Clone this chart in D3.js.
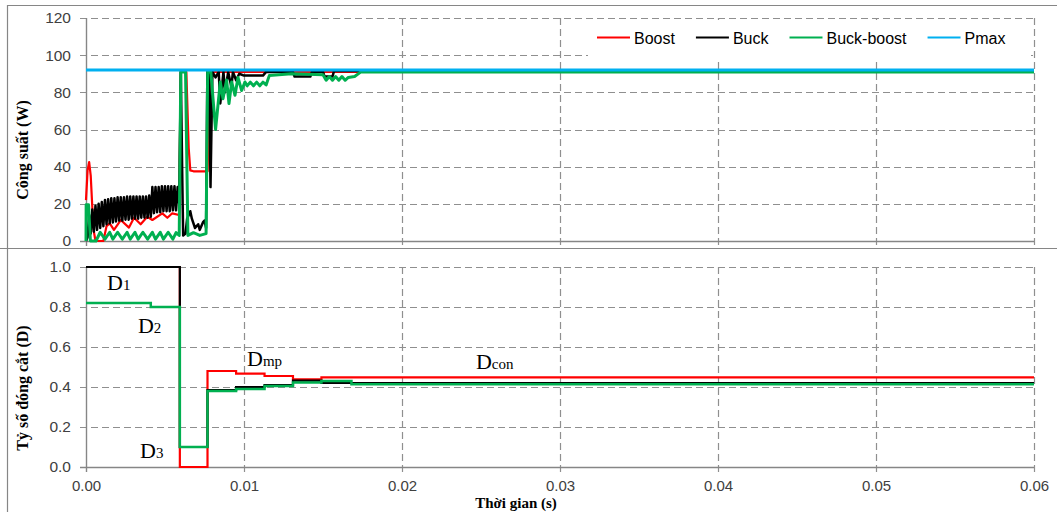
<!DOCTYPE html>
<html>
<head>
<meta charset="utf-8">
<script src="https://cdn.jsdelivr.net/npm/d3@7.9.0/dist/d3.min.js"></script>
<style>
  html, body { margin: 0; padding: 0; background: #fff; }
  svg { display: block; }
  .tick-label { font-family: 'Liberation Sans', Arial, sans-serif; font-size: 15.5px; fill: #404040; }
  .axis-title { font-family: 'Liberation Serif', 'Times New Roman', serif; font-size: 16px; font-weight: bold; fill: #000; }
  .legend-text { font-family: 'Liberation Sans', Arial, sans-serif; font-size: 16px; fill: #000; }
  .note { font-family: 'Liberation Serif', 'Times New Roman', serif; font-size: 22px; fill: #000; }
</style>
</head>
<body>
<svg id="chart" width="1057" height="512"></svg>
<script>
// ---- data ----
const timeTicks = [0, 0.01, 0.02, 0.03, 0.04, 0.05, 0.06];
const powerTicks = [0, 20, 40, 60, 80, 100, 120];
const dutyTicks = [0, 0.2, 0.4, 0.6, 0.8, 1.0];
const seriesNames = ['Boost', 'Buck', 'Buck-boost', 'Pmax'];
const seriesColors = ['#ff0000', '#000000', '#00b050', '#00b0f0'];

const pmax = 92;

// [time (s), power (W)]
const boostPower = [
  [0, 22], [0.0001, 38], [0.0002, 42.5], [0.0003, 35], [0.0004, 18], [0.0005, 5], [0.0006, 0],
  [0.0011, 0], [0.0013, 8], [0.0015, 9.5], [0.00177, 6], [0.0022, 11.3], [0.00272, 7.2],
  [0.00304, 12.5], [0.00346, 9], [0.00388, 13], [0.0042, 11.3], [0.00483, 14.9], [0.00515, 12.5],
  [0.00546, 14.9], [0.00589, 14], [0.006, 91], [0.00635, 91], [0.0065, 50], [0.0066, 38],
  [0.0068, 37.5], [0.0077, 37.5], [0.0078, 80], [0.0079, 91], [0.06, 91]
];

const buckPower = [
  [0, 0], [0.0001, 2], [0.0002, 14], [0.0003, 4], [0.0004, 17], [0.0005, 5], [0.0006, 19],
  [0.0007, 6], [0.0008, 20], [0.0009, 7], [0.0010, 21], [0.0011, 8], [0.0012, 22], [0.0013, 9],
  [0.0014, 22.5], [0.0015, 9.5], [0.0016, 23], [0.0017, 10], [0.0018, 23], [0.0019, 10.5],
  [0.0020, 23.5], [0.0021, 11], [0.0022, 23.5], [0.0023, 11], [0.0024, 23.5], [0.0025, 11.5],
  [0.0026, 24], [0.0027, 11.5], [0.0028, 24], [0.0029, 12], [0.0030, 24], [0.0031, 12],
  [0.0032, 24], [0.0033, 12], [0.0034, 24], [0.0035, 12.5], [0.0036, 24], [0.0037, 12.5],
  [0.0038, 24], [0.0039, 12.5], [0.0040, 24.5], [0.0041, 13], [0.0042, 29], [0.0043, 15],
  [0.0044, 29], [0.0045, 15.5], [0.0046, 29], [0.0047, 15.5], [0.0048, 29.5], [0.0049, 16],
  [0.0050, 29.5], [0.0051, 16], [0.0052, 29.5], [0.0053, 16], [0.0054, 29.5], [0.0055, 16.5],
  [0.0056, 29.5], [0.0057, 16.5], [0.0058, 29], [0.0059, 20], [0.0060, 91], [0.0061, 30],
  [0.00615, 3], [0.0063, 4], [0.0064, 12], [0.0066, 16], [0.0067, 12], [0.0069, 7], [0.0071, 9],
  [0.0072, 6], [0.0074, 10], [0.0075, 11], [0.0076, 7], [0.00768, 91], [0.0078, 91],
  [0.00788, 29], [0.0080, 91], [0.0082, 88], [0.0084, 91], [0.0085, 74], [0.0087, 91],
  [0.0088, 80], [0.0090, 91], [0.0092, 83], [0.0093, 91], [0.0095, 86.5], [0.0097, 90],
  [0.0100, 89], [0.0112, 89], [0.0114, 91], [0.0131, 91], [0.0132, 88.5], [0.0142, 88.5],
  [0.0143, 91], [0.0150, 91], [0.0151, 88.5], [0.0156, 88.5], [0.0157, 91.5], [0.06, 91.5]
];

const buckBoostPower = [
  [0, 0], [0.00001, 19.5], [0.00016, 19.5], [0.00028, 0], [0.00063, 0], [0.0009, 4.7],
  [0.0012, 1], [0.0015, 4.7], [0.0017, 1], [0.0020, 4.7], [0.0023, 1], [0.0026, 4.7],
  [0.0028, 1], [0.0031, 4.7], [0.0033, 1], [0.0036, 4.7], [0.0039, 1], [0.0042, 4.7],
  [0.0044, 1], [0.0047, 4.7], [0.0049, 1], [0.0052, 4.7], [0.0055, 1], [0.0057, 4.5],
  [0.0059, 3], [0.0060, 91], [0.0063, 91], [0.00645, 3], [0.0068, 4.5], [0.0072, 3],
  [0.0076, 4], [0.0077, 91], [0.0079, 91], [0.0082, 60], [0.0085, 85.6], [0.00867, 76.6],
  [0.0089, 86.6], [0.00905, 74], [0.00922, 85.6], [0.00943, 78.4], [0.00962, 88], [0.00985, 81],
  [0.01006, 85.6], [0.0102, 83.5], [0.0104, 85.5], [0.0106, 83.5], [0.0108, 85.5], [0.0110, 83.5],
  [0.0112, 85.5], [0.0114, 84], [0.0116, 89], [0.0130, 90], [0.0150, 89.5], [0.0152, 86.5],
  [0.0154, 88.5], [0.0156, 86.5], [0.0158, 88.5], [0.0160, 86.5], [0.0162, 88.5], [0.0164, 86.5],
  [0.0166, 88], [0.0170, 88.5], [0.0174, 91], [0.06, 91]
];

const pmaxPower = [[0, pmax], [0.06, pmax]];

// [time (s), duty ratio] – held until the next point
const boostDuty = [
  [0, 1.0], [0.00594, 0], [0.00769, 0.48], [0.0095, 0.467], [0.0113, 0.455],
  [0.0131, 0.438], [0.0149, 0.448], [0.06, 0.448]
];
const buckDuty = [
  [0, 1.0], [0.00594, 0.1], [0.00769, 0.385], [0.0095, 0.40], [0.0113, 0.41],
  [0.0131, 0.432], [0.0149, 0.42], [0.06, 0.42]
];
const buckBoostDuty = [
  [0, 0.82], [0.0041, 0.80], [0.00594, 0.10], [0.00769, 0.38], [0.0095, 0.39],
  [0.0113, 0.405], [0.0131, 0.422], [0.0149, 0.43], [0.0168, 0.414], [0.06, 0.414]
];

// annotation labels: [main, subscript, time, duty]
const dutyNotes = [
  ['D', '1', 0.00133, 0.885],
  ['D', '2', 0.00329, 0.67],
  ['D', '3', 0.00342, 0.045],
  ['D', 'mp', 0.01019, 0.505],
  ['D', 'con', 0.02468, 0.49]
];

// ---- layout ----
const svg = d3.select('#chart');
const gridColor = '#8f8f8f';
const axisColor = '#868686';

const x = d3.scaleLinear().domain([0, 0.06]).range([86, 1034]);
const yP = d3.scaleLinear().domain([0, 120]).range([241, 18]);
const yD = d3.scaleLinear().domain([0, 1]).range([467, 267]);

// outer frame and divider
svg.append('line').attr('x1', 7.5).attr('x2', 7.5).attr('y1', 5).attr('y2', 512)
  .attr('stroke', axisColor).attr('stroke-width', 1.2);
svg.append('line').attr('x1', 7).attr('x2', 1057).attr('y1', 5.5).attr('y2', 5.5)
  .attr('stroke', axisColor).attr('stroke-width', 1.2);
svg.append('line').attr('x1', 0).attr('x2', 1057).attr('y1', 248.5).attr('y2', 248.5)
  .attr('stroke', axisColor).attr('stroke-width', 1.2);

function drawPanel(yScale, yTicks, fmt, showTimeLabels) {
  const g = svg.append('g');
  const [y0, y1] = yScale.range();

  // horizontal grid
  g.selectAll('.hgrid')
    .data(yTicks.filter((d) => d !== 0))
    .join('line')
    .attr('x1', 80).attr('x2', x(0.06))
    .attr('y1', (d) => Math.round(yScale(d)) + 0.5)
    .attr('y2', (d) => Math.round(yScale(d)) + 0.5)
    .attr('stroke', gridColor).attr('stroke-width', 1.2)
    .attr('stroke-dasharray', '7,4');

  // vertical grid
  g.selectAll('.vgrid')
    .data(timeTicks.filter((d) => d !== 0))
    .join('line')
    .attr('x1', (d) => Math.round(x(d)) + 0.5)
    .attr('x2', (d) => Math.round(x(d)) + 0.5)
    .attr('y1', y1).attr('y2', y0 + 5)
    .attr('stroke', gridColor).attr('stroke-width', 1.2)
    .attr('stroke-dasharray', '7,4');

  // axis lines
  g.append('line').attr('x1', 80).attr('x2', x(0.06))
    .attr('y1', y0 + 0.5).attr('y2', y0 + 0.5)
    .attr('stroke', axisColor).attr('stroke-width', 1.4);
  g.append('line').attr('x1', x(0) + 0.5).attr('x2', x(0) + 0.5)
    .attr('y1', y1).attr('y2', y0 + 5)
    .attr('stroke', axisColor).attr('stroke-width', 1.4);

  // y tick labels
  const yAxis = d3.axisLeft(yScale).tickValues(yTicks).tickFormat(fmt).tickSize(0).tickPadding(15);
  const ya = g.append('g').attr('transform', `translate(${x(0)},0)`).call(yAxis);
  ya.select('.domain').remove();
  ya.selectAll('text').attr('class', 'tick-label').attr('font-family', null).attr('font-size', null);

  if (showTimeLabels) {
    const xAxis = d3.axisBottom(x).tickValues(timeTicks).tickFormat(d3.format('.2f')).tickSize(0);
    const xa = g.append('g').attr('transform', `translate(0,${y0})`).call(xAxis);
    xa.select('.domain').remove();
    xa.selectAll('text').attr('class', 'tick-label').attr('font-family', null).attr('font-size', null)
      .style('font-size', '15px').attr('y', 24).attr('dy', 0);
  }
  return g;
}

drawPanel(yP, powerTicks, d3.format('d'), false);
drawPanel(yD, dutyTicks, d3.format('.1f'), true);

// power curves
const powerLine = d3.line().x((d) => x(d[0])).y((d) => yP(d[1]));
const powerSeries = [boostPower, buckPower, buckBoostPower, pmaxPower];
const powerWidths = [2.2, 2.5, 3, 3];
powerSeries.forEach((s, i) => {
  svg.append('path').attr('d', powerLine(s))
    .attr('fill', 'none').attr('stroke', seriesColors[i])
    .attr('stroke-width', powerWidths[i]).attr('stroke-linejoin', 'round');
});

// duty curves
const dutyLine = d3.line().x((d) => x(d[0])).y((d) => yD(d[1])).curve(d3.curveStepAfter);
[boostDuty, buckDuty, buckBoostDuty].forEach((s, i) => {
  svg.append('path').attr('d', dutyLine(s))
    .attr('fill', 'none').attr('stroke', seriesColors[i])
    .attr('stroke-width', i === 2 ? 2.5 : 2.2);
});

// legend
const legend = svg.append('g');
legend.append('rect').attr('x', 588).attr('y', 20).attr('width', 443).attr('height', 42).attr('fill', '#fff');
let lx = 597;
seriesNames.forEach((name, i) => {
  legend.append('line').attr('x1', lx).attr('x2', lx + 33).attr('y1', 37.5).attr('y2', 37.5)
    .attr('stroke', seriesColors[i]).attr('stroke-width', 2);
  const t = legend.append('text').attr('class', 'legend-text').attr('x', lx + 37).attr('y', 43.5).text(name);
  lx += 37 + t.node().getComputedTextLength() + 21;
});

// annotations
dutyNotes.forEach(([main, sub, t, d]) => {
  const txt = svg.append('text').attr('class', 'note').attr('x', x(t)).attr('y', yD(d));
  txt.append('tspan').text(main);
  txt.append('tspan').attr('font-size', 15).attr('dy', 0).text(sub);
});

// axis titles
svg.append('text').attr('class', 'axis-title').attr('text-anchor', 'middle')
  .attr('transform', 'translate(28,150) rotate(-90)').text('Công suất (W)');
svg.append('text').attr('class', 'axis-title').attr('text-anchor', 'middle')
  .attr('transform', 'translate(28,388) rotate(-90)').text('Tỷ số đóng cắt (D)');
svg.append('text').attr('class', 'axis-title').attr('text-anchor', 'middle')
  .style('font-size', '15px').attr('x', 516).attr('y', 508).text('Thời gian (s)');
</script>
</body>
</html>
